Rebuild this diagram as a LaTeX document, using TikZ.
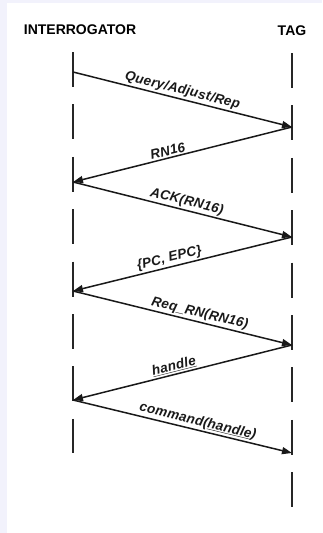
\documentclass[tikz,border=0pt]{standalone}
\usepackage{fontspec}
\setmainfont{Liberation Sans}
\newfontfamily\msgfont[LetterSpace=2]{Liberation Sans}
\usepackage{tikz}
\usetikzlibrary{arrows.meta}
\usepackage{xcolor}
\definecolor{pagetint}{RGB}{242,242,252}
\tikzset{
  party/.style={font=\fontsize{14}{16}\selectfont\bfseries,inner sep=0pt,anchor=base},
  life/.style={line width=1.8pt,black!85,dash pattern=on 35pt off 17.4pt},
  msg/.style={-{Triangle[length=10pt,width=7pt]},line width=1.5pt,black!90},
  msglbl/.style={font=\msgfont\fontsize{13.5}{15}\selectfont\bfseries\itshape,above,sloped,inner sep=1.5pt},
}
\begin{document}
\begin{tikzpicture}[x=1pt,y=-1pt]
  \useasboundingbox (0,0) rectangle (322,533);
  \fill[pagetint] (0,0) rectangle (322,533);
  \fill[white] (7,3) rectangle (322,533);
  % parties and lifelines
  \node[party] (ireader) at (80,34) {INTERROGATOR};
  \node[party] (itag) at (292,35) {TAG};
  \coordinate (L0) at (73,52);   \coordinate (L1) at (73,453);
  \coordinate (R0) at (292,53);  \coordinate (R1) at (292,507);
  \draw[life] (L0)--(L1);
  \draw[life] (R0)--(R1);
  % message end points
  \coordinate (l1) at (73,72);   \coordinate (r1) at (292,127);
  \coordinate (l2) at (73,182);  \coordinate (r2) at (292,237);
  \coordinate (l3) at (73,291);  \coordinate (r3) at (292,345);
  \coordinate (l4) at (73,400);  \coordinate (r4) at (292,453);
  \draw[msg] (l1)--(r1) node[msglbl,pos=0.49] {Query/Adjust/Rep};
  \draw[msg] (r1)--(l2) node[msglbl,pos=0.56] {RN16};
  \draw[msg] (l2)--(r2) node[msglbl,pos=0.51] {ACK(RN16)};
  \draw[msg] (r2)--(l3) node[msglbl,pos=0.55] {\{PC, EPC\}};
  \draw[msg] (l3)--(r3) node[msglbl,pos=0.57] {Req\_RN(RN16)};
  \draw[msg] (r3)--(l4) node[msglbl,pos=0.53] {\underline{handle}};
  \draw[msg] (l4)--(r4) node[msglbl,pos=0.56] {command(\underline{handle})};
\end{tikzpicture}
\end{document}
